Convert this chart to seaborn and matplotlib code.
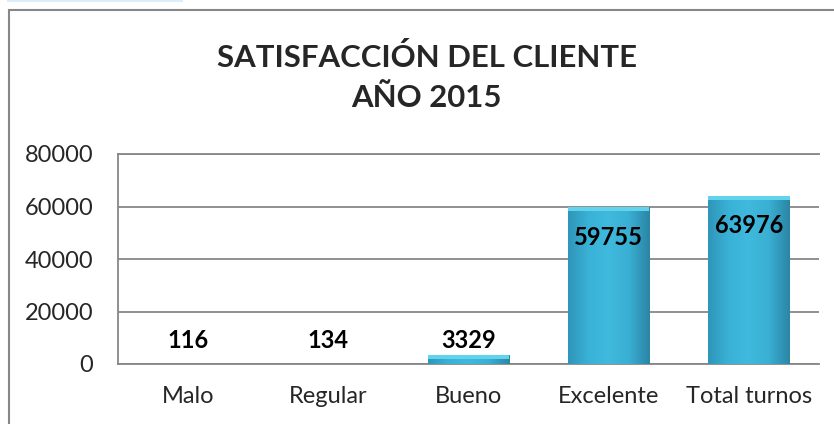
import numpy as np
import matplotlib
matplotlib.use("Agg")
import matplotlib.pyplot as plt
import matplotlib.patches as mpatches
from matplotlib.colors import LinearSegmentedColormap
import seaborn as sns

# datos
categorias = ["Malo", "Regular", "Bueno", "Excelente", "Total turnos"]
valores = [116, 134, 3329, 59755, 63976]
ticks_y = [0, 20000, 40000, 60000, 80000]
titulo = "SATISFACCIÓN DEL CLIENTE\nAÑO 2015"

sns.set_style("white")
plt.rcParams['font.family'] = ['Lato', 'DejaVu Sans']

gris = "#878787"
fig = plt.figure(figsize=(8.34, 4.24), dpi=100)
ax = fig.add_axes([118 / 834, 1 - 364 / 424, (819 - 118) / 834, (364 - 154) / 424])

sns.barplot(x=categorias, y=valores, color="#37abd0", width=0.58, ax=ax, zorder=3)

# sombreado tipo bisel en cada barra
cmap = LinearSegmentedColormap.from_list(
    "bisel", ["#2f96ba", "#3ab2d7", "#3fb9dd", "#39afd3", "#2c86a6"])
grad = np.linspace(0, 1, 64).reshape(1, -1)
for p in ax.patches:
    x0, y0 = p.get_x(), p.get_y()
    w, h = p.get_width(), p.get_height()
    im = ax.imshow(grad, cmap=cmap, aspect="auto", extent=(x0, x0 + w, y0, y0 + h),
                   zorder=4, interpolation="bicubic")
    im.set_clip_path(p)
    cap = min(h, 1500)
    ax.add_patch(mpatches.Rectangle((x0, y0 + h - cap), w, cap,
                                    color="#62d3ec", lw=0, zorder=5))
    p.set_edgecolor("none")

ax.set_xlim(-0.5, 4.5)
ax.set_ylim(0, 80000)
ax.set_yticks(ticks_y)
ax.set_yticklabels([str(t) for t in ticks_y])
ax.yaxis.grid(True, color=gris, lw=1.3, zorder=0)
ax.set_axisbelow(True)
ax.spines["right"].set_visible(False)
for s in ["left", "top", "bottom"]:
    ax.spines[s].set_color(gris)
    ax.spines[s].set_linewidth(1.3)
ax.tick_params(axis="y", length=0, pad=18, labelsize=17)
ax.tick_params(axis="x", length=0, pad=16, labelsize=17)
ax.set_xlabel("")
ax.set_ylabel("")

# etiquetas de valor
for i, v in enumerate(valores):
    ax.text(i, max(v - 11400, 9000), str(v), ha="center", va="center",
            fontsize=17, fontweight="bold", color="black", zorder=6)

fig.text(426.5 / 834, 1 - 77.5 / 424, titulo, ha="center", va="center",
         fontsize=22.4, fontweight="bold", linespacing=1.52)

# marco exterior y franja superior
fig.patches.append(mpatches.Rectangle((9 / 834, -0.05), 1.2, 1 - 10 / 424 + 0.05,
                                      transform=fig.transFigure, fill=False,
                                      edgecolor=gris, lw=1.5))
fig.patches.append(mpatches.Rectangle((7 / 834, 1 - 2 / 424), 176 / 834, 2 / 424,
                                      transform=fig.transFigure, color="#dcecf8", lw=0))

fig.savefig("out.png", dpi=100)
